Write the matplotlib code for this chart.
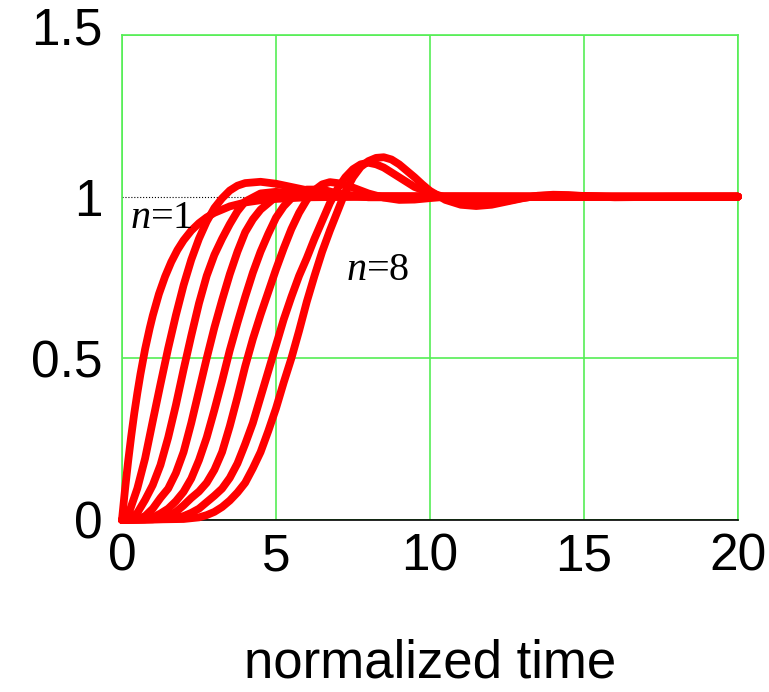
import matplotlib
matplotlib.use("Agg")
import matplotlib.pyplot as plt
from matplotlib.transforms import ScaledTranslation

# step responses, one curve per order n
t1 = [0, 0.1, 0.2, 0.3, 0.4, 0.5, 0.6, 0.75, 0.9, 1.0, 1.2, 1.4, 1.6, 1.8, 2.0, 2.25, 2.5, 2.75, 3.0,
      3.5, 4.0, 4.5, 5.0, 6.0, 7.0, 8.0, 20.0]
y1 = [0, 0.095, 0.181, 0.259, 0.33, 0.393, 0.451, 0.528, 0.593, 0.632, 0.699, 0.753, 0.798, 0.835, 0.865,
      0.895, 0.918, 0.936, 0.95, 0.97, 0.982, 0.989, 0.993, 0.998, 0.999, 1.0, 1.0]

t2 = [0, 0.25, 0.5, 0.75, 1.0, 1.25, 1.5, 1.75, 2.0, 2.25, 2.5, 2.75, 3.0, 3.25, 3.5, 3.75, 4.0, 4.5,
      5.0, 5.5, 6.0, 6.5, 7.0, 8.0, 9.0, 20.0]
y2 = [0, 0.028, 0.098, 0.19, 0.306, 0.42, 0.531, 0.633, 0.726, 0.805, 0.87, 0.923, 0.965, 0.995, 1.019,
      1.034, 1.042, 1.046, 1.04, 1.03, 1.02, 1.011, 1.005, 0.999, 0.999, 1.0]

t3 = [0, 0.25, 0.5, 0.75, 1.0, 1.25, 1.5, 1.75, 2.0, 2.25, 2.5, 2.75, 3.0, 3.25, 3.5, 3.75, 4.0, 4.5,
      5.0, 5.5, 6.0, 7.0, 20.0]
y3 = [0, 0.004, 0.022, 0.062, 0.108, 0.17, 0.255, 0.355, 0.465, 0.57, 0.67, 0.755, 0.82, 0.87, 0.915,
      0.955, 0.985, 1.01, 1.015, 1.01, 1.004, 1.0, 1.0]

t4 = [0, 0.5, 0.75, 1.0, 1.25, 1.5, 1.75, 2.0, 2.25, 2.5, 2.75, 3.0, 3.25, 3.5, 3.75, 4.0, 4.25, 4.5,
      5.0, 5.5, 6.0, 6.5, 7.5, 20.0]
y4 = [0, 0.003, 0.012, 0.035, 0.068, 0.097, 0.145, 0.21, 0.3, 0.4, 0.5, 0.595, 0.68, 0.76, 0.83, 0.89,
      0.93, 0.96, 1.0, 1.018, 1.017, 1.01, 1.002, 1.0]

t5 = [0, 0.75, 1.0, 1.25, 1.5, 1.75, 2.0, 2.25, 2.5, 2.75, 3.0, 3.25, 3.5, 3.75, 4.0, 4.25, 4.5, 4.75,
      5.0, 5.25, 5.5, 6.0, 6.5, 7.0, 8.0, 9.0, 20.0]
y5 = [0, 0.002, 0.008, 0.02, 0.035, 0.058, 0.087, 0.128, 0.185, 0.255, 0.34, 0.43, 0.525, 0.61, 0.69,
      0.765, 0.83, 0.885, 0.935, 0.97, 0.995, 1.022, 1.022, 1.01, 0.998, 0.998, 1.0]

t6 = [0, 1.0, 1.5, 1.75, 2.0, 2.25, 2.5, 2.75, 3.0, 3.25, 3.5, 3.75, 4.0, 4.25, 4.5, 4.75, 5.0, 5.25,
      5.5, 5.75, 6.0, 6.25, 6.5, 6.75, 7.0, 7.5, 8.0, 8.5, 9.0, 9.5, 10.5, 20.0]
y6 = [0, 0.002, 0.012, 0.025, 0.045, 0.068, 0.088, 0.115, 0.155, 0.21, 0.29, 0.38, 0.475, 0.56, 0.635,
      0.705, 0.775, 0.84, 0.9, 0.95, 0.99, 1.02, 1.038, 1.045, 1.042, 1.028, 1.01, 0.997, 0.99, 0.991,
      1.0, 1.0]

t7 = [0, 1.5, 2.0, 2.25, 2.5, 2.75, 3.0, 3.25, 3.5, 3.75, 4.0, 4.25, 4.5, 4.75, 5.0, 5.25, 5.5, 5.75,
      6.0, 6.25, 6.5, 6.75, 7.0, 7.25, 7.5, 7.75, 8.0, 8.25, 8.5, 8.75, 9.0, 9.5, 10.0, 10.5, 11.0,
      11.5, 12.0, 12.5, 13.0, 13.5, 14.0, 15.0, 16.0, 17.5, 20.0]
y7 = [0, 0.003, 0.012, 0.022, 0.035, 0.055, 0.075, 0.097, 0.13, 0.175, 0.235, 0.3, 0.38, 0.46, 0.54,
      0.62, 0.69, 0.755, 0.81, 0.87, 0.925, 0.98, 1.025, 1.06, 1.085, 1.1, 1.105, 1.1, 1.09, 1.075, 1.06,
      1.03, 1.012, 0.998, 0.985, 0.98, 0.981, 0.987, 0.996, 1.002, 1.004, 1.002, 0.999, 0.999, 1.0]

t8 = [0, 2.0, 2.5, 2.75, 3.0, 3.25, 3.5, 3.75, 4.0, 4.25, 4.5, 4.75, 5.0, 5.25, 5.5, 5.75, 6.0, 6.25,
      6.5, 6.75, 7.0, 7.25, 7.5, 7.75, 8.0, 8.25, 8.5, 8.75, 9.0, 9.25, 9.5, 9.75, 10.0, 10.5, 11.0,
      11.5, 12.0, 12.5, 13.0, 13.5, 14.0, 14.5, 15.0, 16.0, 17.0, 18.0, 20.0]
y8 = [0, 0.003, 0.008, 0.015, 0.025, 0.04, 0.06, 0.085, 0.115, 0.16, 0.21, 0.275, 0.345, 0.425, 0.5,
      0.585, 0.675, 0.755, 0.83, 0.895, 0.955, 1.015, 1.06, 1.092, 1.11, 1.12, 1.122, 1.115, 1.1, 1.08,
      1.06, 1.038, 1.018, 0.99, 0.975, 0.971, 0.975, 0.985, 0.995, 1.003, 1.006, 1.005, 1.002, 0.998,
      0.999, 1.0, 1.0]

xticks = [0, 5, 10, 15, 20]
yticks = [0, 0.5, 1, 1.5]
ytick_labels = ["0", "0.5", "1", "1.5"]

plt.rcParams["font.family"] = ["Liberation Sans", "DejaVu Sans"]
plt.rcParams["mathtext.fontset"] = "custom"
plt.rcParams["mathtext.it"] = "Liberation Serif:italic"
plt.rcParams["mathtext.rm"] = "Liberation Serif"

fig = plt.figure(figsize=(7.69, 6.92), dpi=100)
ax = fig.add_axes([0.1586, 0.2486, 0.8011, 0.7008])

green = "#55ee55"
ax.set_xlim(0, 20)
ax.set_ylim(0, 1.5)
ax.set_xticks(xticks)
ax.set_yticks(yticks)
ax.set_yticklabels(ytick_labels)
ax.tick_params(length=0, labelsize=37)
ax.tick_params(axis="x", pad=9)
ax.tick_params(axis="y", pad=14)

# top label sits a little higher in the original
top_lab = ax.get_yticklabels()[-1]
top_lab.set_transform(top_lab.get_transform() + ScaledTranslation(0, 7 / 72, fig.dpi_scale_trans))

ax.grid(True, color=green, lw=1.2)
ax.yaxis.get_gridlines()[2].set_visible(False)  # y=1 gets the dotted line instead
for side in ["left", "top", "right"]:
    ax.spines[side].set_color(green)
    ax.spines[side].set_linewidth(1.2)
ax.spines["bottom"].set_color("black")
ax.spines["bottom"].set_linewidth(1.2)
ax.set_axisbelow(True)

ax.axhline(1.0, color="black", ls=":", lw=0.8, zorder=1)

for t, y in [(t1, y1), (t2, y2), (t3, y3), (t4, y4), (t5, y5), (t6, y6), (t7, y7), (t8, y8)]:
    ax.plot(t, y, color="#ff0000", lw=5.6, solid_capstyle="round", solid_joinstyle="round",
            clip_on=False, zorder=3)

ax.text(0.26, 0.902, r"$n$=1", fontsize=29, family="Liberation Serif", zorder=4)
ax.text(7.27, 0.742, r"$n$=8", fontsize=29, family="Liberation Serif", zorder=4)

ax.set_xlabel("normalized time", fontsize=38, labelpad=41)

fig.savefig("out.png", dpi=100)
